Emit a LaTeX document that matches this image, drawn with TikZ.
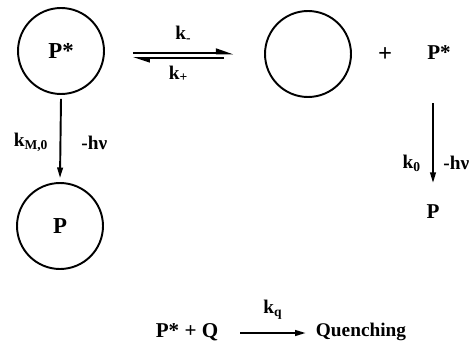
\documentclass[tikz,border=0pt]{standalone}
\usepackage{fontspec}
\setmainfont{Liberation Serif}
\usetikzlibrary{positioning,arrows.meta,calc}

\begin{document}
\begin{tikzpicture}[
    x=0.02cm, y=-0.02cm,
    font=\fontsize{11}{13}\selectfont\bfseries,
    mol/.style={circle, draw, line width=1.1pt, minimum size=1.72cm, inner sep=0pt, font=\fontsize{13}{15}\selectfont\bfseries},
    txt/.style={inner sep=1pt},
    line/.style={draw, line width=1.1pt, -{Triangle[length=6pt,width=3.2pt]}},
    harp/.style={draw, -{Triangle[harpoon,length=8pt,width=5pt]}}
]
\useasboundingbox (0,0) rectangle (469,341);
% Place nodes
\node [mol] (exc) at (61,51) {P*};
\node [mol] (cage) at (308,54) {};
\node [txt, font=\fontsize{14}{16}\selectfont\bfseries] (plus) at (385,55) {+};
\node [txt, font=\fontsize{12}{14}\selectfont\bfseries] (free) at (439,53) {P*};
\node [mol] (gnd) at (60,226) {P};
\node [txt, font=\fontsize{12}{14}\selectfont\bfseries] (pfree) at (433,212) {P};
\node [txt, font=\fontsize{12}{14}\selectfont\bfseries] (pq) at (187,332) {P* + Q};
\node [txt] (quench) at (361,332) {Quenching};

% Draw edges
\draw [harp, line width=1.5pt] ($(exc.east)+(28,2)$) -- ($(cage.west)+(-30,-1)$)
    node [midway, above=2pt] (kminus) {k\textsubscript{-}};
\draw [harp, line width=1pt] ($(cage.west)+(-40,4)$) -- ($(exc.east)+(28,7)$)
    node [midway, below=0.5pt] (kplus) {k\textsubscript{+}};
\draw [line] ($(exc.south)+(0,4)$) -- ($(gnd.north)+(0,-4)$)
    node [pos=0.55, left=3pt] (kmo) {k\textsubscript{M,0}}
    node [pos=0.55, right=8pt] (hvl) {-hν};
\draw [line] ($(pfree.north |- free.south)+(0,41)$) -- ($(pfree.north)+(0,-20)$)
    node [pos=0.75, left=3pt] (kzero) {k\textsubscript{0}}
    node [pos=0.75, right=2pt] (hvr) {-hν};
\draw [line] ($(pq.east)+(20,1)$) -- ($(quench.west)+(-8,1)$)
    node [midway, above=4pt] (kq) {k\textsubscript{q}};
\end{tikzpicture}
\end{document}
